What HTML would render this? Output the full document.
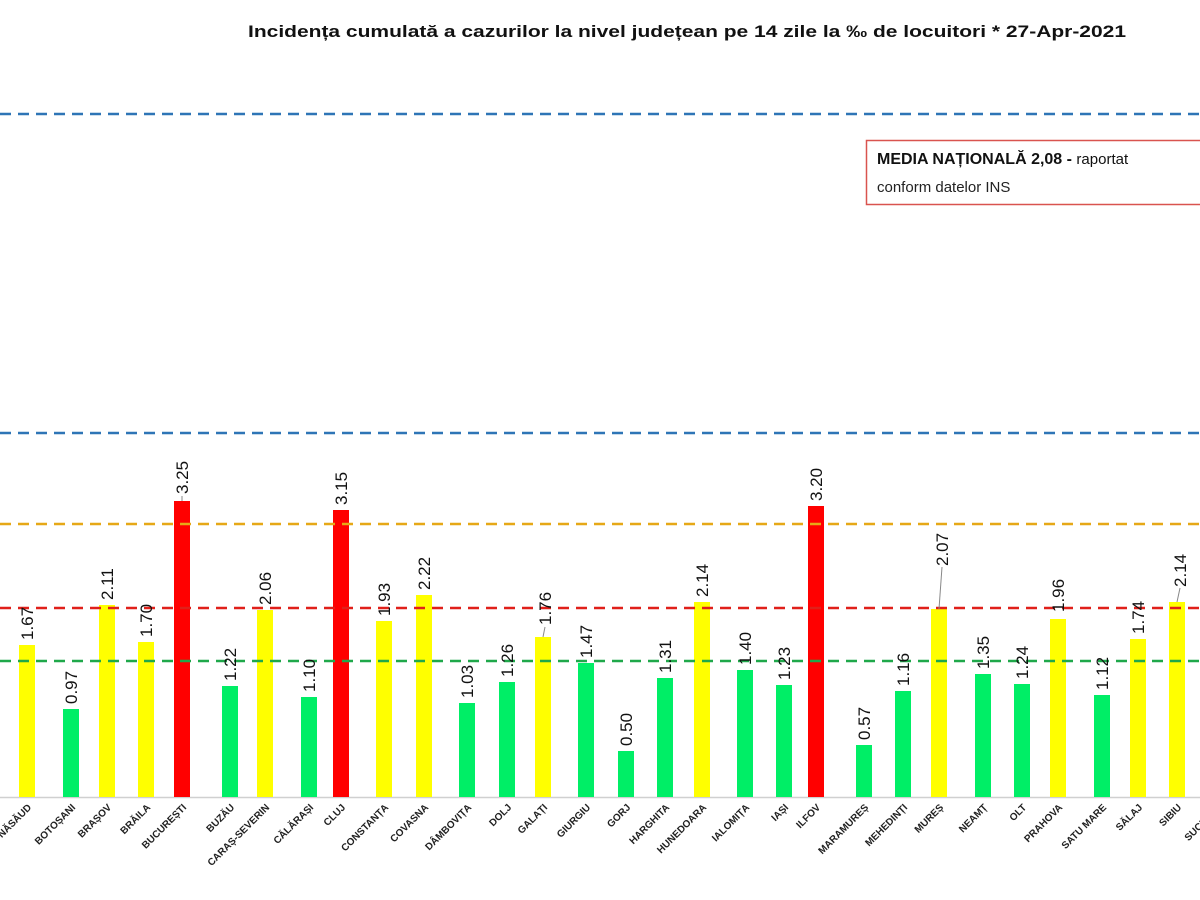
<!DOCTYPE html>
<html><head><meta charset="utf-8"><style>
html,body{margin:0;padding:0;background:#fff}
svg{display:block}
.v{font-family:"Liberation Sans",sans-serif;font-size:17px;fill:#111}
.c{font-family:"Liberation Sans",sans-serif;font-size:10px;font-weight:bold;fill:#222}
</style></head><body>
<svg width="1200" height="900" viewBox="0 0 1200 900" xmlns="http://www.w3.org/2000/svg">
<text x="248" y="37" textLength="878" lengthAdjust="spacingAndGlyphs" font-family="Liberation Sans,sans-serif" font-size="17" font-weight="bold" fill="#111">Incidența cumulată a cazurilor la nivel județean pe 14 zile la ‰ de locuitori *   27-Apr-2021</text>
<g stroke-width="2.5" stroke-dasharray="11,7" fill="none">
<line x1="0" y1="114" x2="1200" y2="114" stroke="#2e75b6"/>
<line x1="0" y1="433" x2="1200" y2="433" stroke="#2e75b6"/>
</g>
<rect x="866.5" y="140.5" width="340" height="64" fill="#fff" stroke="#d9534f" stroke-width="1.5"/>
<text x="877" y="164" font-family="Liberation Sans,sans-serif" font-size="16" fill="#111"><tspan font-weight="bold">MEDIA NAȚIONALĂ  2,08 - </tspan><tspan font-size="15">raportat</tspan></text>
<text x="877" y="192" font-family="Liberation Sans,sans-serif" font-size="15" fill="#222">conform datelor INS</text>
<line x1="0" y1="797.5" x2="1200" y2="797.5" stroke="#d0d0d0" stroke-width="1.5"/>
<g>
<rect x="19" y="645" width="16" height="152" fill="#ffff00"/>
<rect x="63" y="709" width="16" height="88" fill="#00ee66"/>
<rect x="99" y="605" width="16" height="192" fill="#ffff00"/>
<rect x="138" y="642" width="16" height="155" fill="#ffff00"/>
<rect x="174" y="501" width="16" height="296" fill="#ff0000"/>
<rect x="222" y="686" width="16" height="111" fill="#00ee66"/>
<rect x="257" y="610" width="16" height="187" fill="#ffff00"/>
<rect x="301" y="697" width="16" height="100" fill="#00ee66"/>
<rect x="333" y="510" width="16" height="287" fill="#ff0000"/>
<rect x="376" y="621" width="16" height="176" fill="#ffff00"/>
<rect x="416" y="595" width="16" height="202" fill="#ffff00"/>
<rect x="459" y="703" width="16" height="94" fill="#00ee66"/>
<rect x="499" y="682" width="16" height="115" fill="#00ee66"/>
<rect x="535" y="637" width="16" height="160" fill="#ffff00"/>
<rect x="578" y="663" width="16" height="134" fill="#00ee66"/>
<rect x="618" y="751" width="16" height="46" fill="#00ee66"/>
<rect x="657" y="678" width="16" height="119" fill="#00ee66"/>
<rect x="694" y="602" width="16" height="195" fill="#ffff00"/>
<rect x="737" y="670" width="16" height="127" fill="#00ee66"/>
<rect x="776" y="685" width="16" height="112" fill="#00ee66"/>
<rect x="808" y="506" width="16" height="291" fill="#ff0000"/>
<rect x="856" y="745" width="16" height="52" fill="#00ee66"/>
<rect x="895" y="691" width="16" height="106" fill="#00ee66"/>
<rect x="931" y="609" width="16" height="188" fill="#ffff00"/>
<rect x="975" y="674" width="16" height="123" fill="#00ee66"/>
<rect x="1014" y="684" width="16" height="113" fill="#00ee66"/>
<rect x="1050" y="619" width="16" height="178" fill="#ffff00"/>
<rect x="1094" y="695" width="16" height="102" fill="#00ee66"/>
<rect x="1130" y="639" width="16" height="158" fill="#ffff00"/>
<rect x="1169" y="602" width="16" height="195" fill="#ffff00"/>
</g>
<g stroke-width="2.5" stroke-dasharray="11,7" fill="none">
<line x1="0" y1="524" x2="1200" y2="524" stroke="#e6a817"/>
<line x1="0" y1="608" x2="1200" y2="608" stroke="#e0201a"/>
<line x1="0" y1="661" x2="1200" y2="661" stroke="#1fa84a"/>
</g>
<g stroke="#888" stroke-width="1">
<line x1="543" y1="637" x2="545" y2="627"/>
<line x1="939" y1="609" x2="942" y2="567"/>
<line x1="1177" y1="602" x2="1180" y2="588"/>
<line x1="182" y1="501" x2="182" y2="496"/>
</g>
<g class="v">
<text transform="translate(33,640) rotate(-90)">1.67</text>
<text transform="translate(77,704) rotate(-90)">0.97</text>
<text transform="translate(113,600) rotate(-90)">2.11</text>
<text transform="translate(152,637) rotate(-90)">1.70</text>
<text transform="translate(188,494) rotate(-90)">3.25</text>
<text transform="translate(236,681) rotate(-90)">1.22</text>
<text transform="translate(271,605) rotate(-90)">2.06</text>
<text transform="translate(315,692) rotate(-90)">1.10</text>
<text transform="translate(347,505) rotate(-90)">3.15</text>
<text transform="translate(390,616) rotate(-90)">1.93</text>
<text transform="translate(430,590) rotate(-90)">2.22</text>
<text transform="translate(473,698) rotate(-90)">1.03</text>
<text transform="translate(513,677) rotate(-90)">1.26</text>
<text transform="translate(551,625) rotate(-90)">1.76</text>
<text transform="translate(592,658) rotate(-90)">1.47</text>
<text transform="translate(632,746) rotate(-90)">0.50</text>
<text transform="translate(671,673) rotate(-90)">1.31</text>
<text transform="translate(708,597) rotate(-90)">2.14</text>
<text transform="translate(751,665) rotate(-90)">1.40</text>
<text transform="translate(790,680) rotate(-90)">1.23</text>
<text transform="translate(822,501) rotate(-90)">3.20</text>
<text transform="translate(870,740) rotate(-90)">0.57</text>
<text transform="translate(909,686) rotate(-90)">1.16</text>
<text transform="translate(948,566) rotate(-90)">2.07</text>
<text transform="translate(989,669) rotate(-90)">1.35</text>
<text transform="translate(1028,679) rotate(-90)">1.24</text>
<text transform="translate(1064,612) rotate(-90)">1.96</text>
<text transform="translate(1108,690) rotate(-90)">1.12</text>
<text transform="translate(1144,634) rotate(-90)">1.74</text>
<text transform="translate(1186,587) rotate(-90)">2.14</text>
</g>
<g class="c" text-anchor="end">
<text transform="translate(32,808) rotate(-45)">BISTRIȚA-NĂSĂUD</text>
<text transform="translate(76,808) rotate(-45)">BOTOȘANI</text>
<text transform="translate(112,808) rotate(-45)">BRAȘOV</text>
<text transform="translate(151,808) rotate(-45)">BRĂILA</text>
<text transform="translate(187,808) rotate(-45)">BUCUREȘTI</text>
<text transform="translate(235,808) rotate(-45)">BUZĂU</text>
<text transform="translate(270,808) rotate(-45)">CARAȘ-SEVERIN</text>
<text transform="translate(314,808) rotate(-45)">CĂLĂRAȘI</text>
<text transform="translate(346,808) rotate(-45)">CLUJ</text>
<text transform="translate(389,808) rotate(-45)">CONSTANȚA</text>
<text transform="translate(429,808) rotate(-45)">COVASNA</text>
<text transform="translate(472,808) rotate(-45)">DÂMBOVIȚA</text>
<text transform="translate(512,808) rotate(-45)">DOLJ</text>
<text transform="translate(548,808) rotate(-45)">GALAȚI</text>
<text transform="translate(591,808) rotate(-45)">GIURGIU</text>
<text transform="translate(631,808) rotate(-45)">GORJ</text>
<text transform="translate(670,808) rotate(-45)">HARGHITA</text>
<text transform="translate(707,808) rotate(-45)">HUNEDOARA</text>
<text transform="translate(750,808) rotate(-45)">IALOMIȚA</text>
<text transform="translate(789,808) rotate(-45)">IAȘI</text>
<text transform="translate(821,808) rotate(-45)">ILFOV</text>
<text transform="translate(869,808) rotate(-45)">MARAMUREȘ</text>
<text transform="translate(908,808) rotate(-45)">MEHEDINȚI</text>
<text transform="translate(944,808) rotate(-45)">MUREȘ</text>
<text transform="translate(988,808) rotate(-45)">NEAMȚ</text>
<text transform="translate(1027,808) rotate(-45)">OLT</text>
<text transform="translate(1063,808) rotate(-45)">PRAHOVA</text>
<text transform="translate(1107,808) rotate(-45)">SATU MARE</text>
<text transform="translate(1143,808) rotate(-45)">SĂLAJ</text>
<text transform="translate(1182,808) rotate(-45)">SIBIU</text>
<text transform="translate(1222,808) rotate(-45)">SUCEAVA</text>
</g>
</svg>
</body></html>
